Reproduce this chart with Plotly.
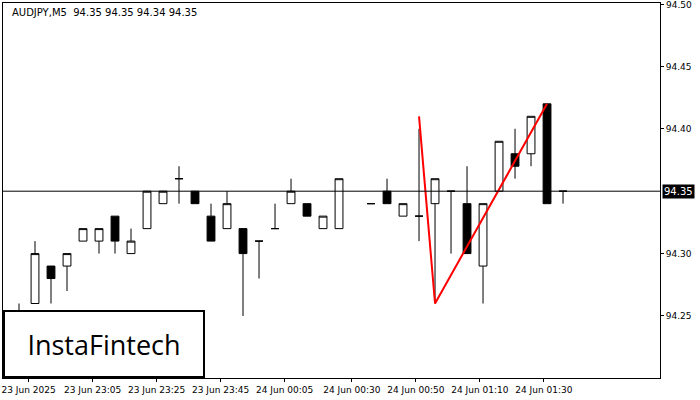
import plotly.graph_objects as go

idx = list(range(0, 21)) + list(range(22, 35))
opens  = [94.24,94.26,94.29,94.29,94.31,94.31,94.33,94.30,94.32,94.34,94.36,94.35,94.33,94.32,94.32,94.31,94.32,94.34,94.34,94.32,94.32,
          94.34,94.35,94.33,94.33,94.34,94.35,94.34,94.29,94.35,94.38,94.38,94.42,94.35]
closes = [94.25,94.30,94.28,94.30,94.32,94.32,94.31,94.31,94.35,94.35,94.36,94.34,94.31,94.34,94.30,94.31,94.32,94.35,94.33,94.33,94.36,
          94.34,94.34,94.34,94.33,94.36,94.35,94.30,94.34,94.39,94.37,94.41,94.34,94.35]
highs  = [94.26,94.31,94.29,94.30,94.32,94.32,94.33,94.32,94.35,94.35,94.37,94.35,94.34,94.35,94.32,94.31,94.34,94.36,94.34,94.33,94.36,
          94.34,94.36,94.34,94.40,94.36,94.35,94.37,94.34,94.39,94.40,94.41,94.42,94.35]
lows   = [94.23,94.26,94.26,94.27,94.31,94.30,94.30,94.30,94.32,94.34,94.34,94.34,94.31,94.32,94.25,94.28,94.32,94.34,94.33,94.32,94.32,
          94.34,94.34,94.33,94.31,94.26,94.30,94.30,94.26,94.35,94.36,94.37,94.34,94.34]
tick_pos = [0.6,4.6,8.6,12.6,16.6,20.8,24.8,28.8,32.8]
tick_text = ["23 Jun 2025","23 Jun 23:05","23 Jun 23:25","23 Jun 23:45","24 Jun 00:05","24 Jun 00:30","24 Jun 00:50","24 Jun 01:10","24 Jun 01:30"]
pattern_x = [25, 26, 33]
pattern_y = [94.41, 94.26, 94.42]
last_price = 94.35
y_ticks = [94.25, 94.30, 94.40, 94.45, 94.50]
top_label = 94.50

fig = go.Figure()
fig.add_trace(go.Candlestick(x=idx, open=opens, high=highs, low=lows, close=closes,
    increasing=dict(line=dict(color="black", width=1), fillcolor="white"),
    decreasing=dict(line=dict(color="black", width=1), fillcolor="black"),
    whiskerwidth=0, showlegend=False, hoverinfo="skip"))
fig.add_trace(go.Scatter(x=pattern_x, y=pattern_y, mode="lines",
    line=dict(color="red", width=2), showlegend=False, hoverinfo="skip"))
fig.add_hline(y=last_price, line=dict(color="black", width=1))
fig.add_annotation(x=1, xref="paper", y=last_price, yref="y", text="94.35", showarrow=False,
    xanchor="left", bgcolor="black", font=dict(color="white", size=10, family="DejaVu Sans"), borderpad=1, xshift=2)
fig.add_annotation(x=1, xref="paper", y=top_label, yref="y", text=f"{top_label:.2f}", showarrow=False,
    xanchor="left", yanchor="middle", xshift=4, yshift=-1, font=dict(color="black", size=9, family="DejaVu Sans"))
fig.add_annotation(x=0.01, xref="paper", y=0.995, yref="paper", text="AUDJPY,M5  94.35 94.35 94.34 94.35",
    showarrow=False, xanchor="left", yanchor="top", font=dict(size=10, color="black", family="DejaVu Sans"))
fig.add_annotation(x=0, xref="paper", y=0, yref="paper", text="InstaFintech", showarrow=False,
    xanchor="left", yanchor="bottom", font=dict(size=27, color="black", family="Open Sans", weight=500),
    bgcolor="white", bordercolor="black", borderwidth=2, borderpad=4, width=190, height=56)

fig.update_layout(width=700, height=400, margin=dict(l=3, r=40, t=3, b=22, autoexpand=False),
    paper_bgcolor="white", plot_bgcolor="white",
    font=dict(family="DejaVu Sans", size=9, color="black"),
    xaxis=dict(range=[-1, 40.06], rangeslider=dict(visible=False), tickvals=tick_pos, ticktext=tick_text,
               showgrid=False, zeroline=False, showline=True, linecolor="black", mirror=True,
               ticks="outside", ticklen=3, tickcolor="black"),
    yaxis=dict(range=[94.2003, 94.5008], side="right", tickvals=y_ticks, tickformat=".2f",
               showgrid=False, zeroline=False, showline=True, linecolor="black", mirror=True,
               ticks="outside", ticklen=3, tickcolor="black"))
fig.write_html("out.html", config={"displayModeBar": False},
               post_script="document.body.style.margin='0';document.body.style.overflow='hidden';")
